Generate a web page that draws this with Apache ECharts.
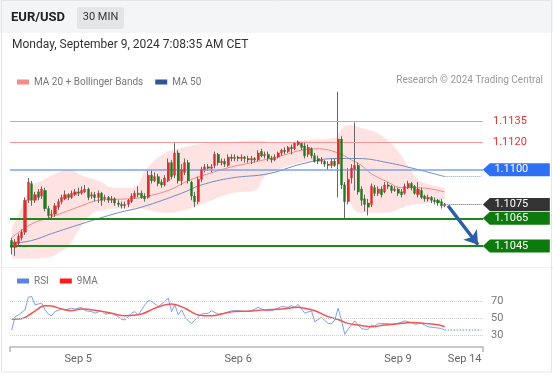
<!DOCTYPE html>
<html><head><meta charset="utf-8">
<script src="https://cdn.jsdelivr.net/npm/echarts@6/dist/echarts.min.js"></script>
<style>html,body{margin:0;padding:0;background:#fff}#c{width:553px;height:375px}</style>
</head><body><div id="c"></div>
<script>
const categoryCount = 142;
const tickLabels = ['Sep 5', 'Sep 6', 'Sep 9', 'Sep 14'];
const tickIndex = [20, 68, 116, 136];

// [open, close, low, high]
const candles = [
[1.1049,1.1044,1.1039,1.1051],[1.1044,1.1048,1.1038,1.1050],[1.1047,1.1052,1.1045,1.1054],[1.1051,1.1055,1.1049,1.1057],
[1.1055,1.1078,1.1053,1.1080],[1.1078,1.1091,1.1076,1.1094],[1.1090,1.1078,1.1074,1.1092],[1.1078,1.1082,1.1076,1.1084],
[1.1084,1.1080,1.1078,1.1086],[1.1081,1.1086,1.1079,1.1088],[1.1085,1.1072,1.1070,1.1087],[1.1072,1.1067,1.1065,1.1074],
[1.1067,1.1068,1.1065,1.1071],[1.1068,1.1074,1.1066,1.1076],[1.1073,1.1077,1.1071,1.1079],[1.1077,1.1080,1.1075,1.1082],
[1.1079,1.1082,1.1078,1.1085],[1.1082,1.1080,1.1078,1.1083],[1.1080,1.1083,1.1079,1.1085],[1.1082,1.1084,1.1081,1.1086],
[1.1084,1.1083,1.1081,1.1087],[1.1083,1.1085,1.1082,1.1088],[1.1084,1.1086,1.1083,1.1089],[1.1086,1.1080,1.1078,1.1087],
[1.1081,1.1082,1.1079,1.1084],[1.1082,1.1080,1.1077,1.1084],[1.1080,1.1083,1.1076,1.1085],[1.1083,1.1078,1.1074,1.1084],
[1.1079,1.1080,1.1077,1.1082],[1.1080,1.1078,1.1076,1.1081],[1.1078,1.1079,1.1076,1.1081],[1.1079,1.1076,1.1074,1.1080],
[1.1076,1.1075,1.1073,1.1078],[1.1075,1.1074,1.1072,1.1077],[1.1074,1.1075,1.1072,1.1077],[1.1075,1.1078,1.1073,1.1079],
[1.1077,1.1081,1.1076,1.1083],[1.1080,1.1083,1.1079,1.1085],[1.1083,1.1082,1.1080,1.1088],[1.1083,1.1080,1.1079,1.1085],
[1.1081,1.1079,1.1077,1.1083],[1.1080,1.1096,1.1079,1.1099],[1.1096,1.1092,1.1090,1.1100],[1.1092,1.1095,1.1091,1.1098],
[1.1095,1.1090,1.1088,1.1097],[1.1091,1.1089,1.1087,1.1093],[1.1089,1.1094,1.1088,1.1096],[1.1092,1.1105,1.1091,1.1108],
[1.1105,1.1095,1.1093,1.1107],[1.1096,1.1112,1.1094,1.1119],[1.1112,1.1092,1.1090,1.1114],[1.1092,1.1100,1.1089,1.1104],
[1.1098,1.1105,1.1096,1.1108],[1.1105,1.1092,1.1090,1.1107],[1.1091,1.1081,1.1078,1.1092],[1.1081,1.1077,1.1073,1.1084],
[1.1077,1.1093,1.1075,1.1095],[1.1093,1.1100,1.1091,1.1102],[1.1100,1.1102,1.1098,1.1104],[1.1102,1.1101,1.1099,1.1104],
[1.1101,1.1102,1.1098,1.1104],[1.1103,1.1111,1.1101,1.1113],[1.1111,1.1105,1.1103,1.1112],[1.1105,1.1106,1.1103,1.1108],
[1.1106,1.1104,1.1102,1.1108],[1.1103,1.1109,1.1102,1.1111],[1.1109,1.1108,1.1106,1.1111],[1.1108,1.1109,1.1106,1.1111],
[1.1109,1.1108,1.1106,1.1110],[1.1108,1.1109,1.1106,1.1111],[1.1109,1.1108,1.1105,1.1110],[1.1108,1.1107,1.1105,1.1110],
[1.1107,1.1108,1.1104,1.1110],[1.1108,1.1107,1.1105,1.1109],[1.1107,1.1112,1.1106,1.1114],[1.1113,1.1110,1.1109,1.1115],
[1.1110,1.1111,1.1108,1.1113],[1.1111,1.1108,1.1106,1.1113],[1.1108,1.1107,1.1105,1.1110],[1.1107,1.1109,1.1106,1.1111],
[1.1109,1.1112,1.1108,1.1113],[1.1112,1.1114,1.1110,1.1115],[1.1114,1.1113,1.1111,1.1116],[1.1113,1.1116,1.1112,1.1117],
[1.1116,1.1115,1.1111,1.1118],[1.1115,1.1119,1.1114,1.1120],[1.1118,1.1120,1.1117,1.1121],[1.1119,1.1116,1.1114,1.1120],
[1.1117,1.1110,1.1108,1.1120],[1.1111,1.1116,1.1109,1.1118],[1.1115,1.1110,1.1108,1.1116],[1.1110,1.1106,1.1105,1.1112],
[1.1108,1.1106,1.1104,1.1110],[1.1106,1.1107,1.1104,1.1109],[1.1106,1.1104,1.1102,1.1107],[1.1104,1.1103,1.1100,1.1106],
[1.1103,1.1106,1.1101,1.1108],[1.1106,1.1103,1.1102,1.1108],[1.1104,1.1122,1.1080,1.1156],[1.1122,1.1089,1.1086,1.1124],
[1.1089,1.1077,1.1064,1.1091],[1.1077,1.1093,1.1075,1.1101],[1.1094,1.1101,1.1090,1.1104],[1.1100,1.1103,1.1085,1.1134],
[1.1103,1.1084,1.1082,1.1105],[1.1086,1.1078,1.1074,1.1088],[1.1079,1.1075,1.1070,1.1082],[1.1076,1.1073,1.1067,1.1079],
[1.1075,1.1088,1.1073,1.1090],[1.1087,1.1083,1.1081,1.1089],[1.1083,1.1086,1.1081,1.1088],[1.1086,1.1082,1.1080,1.1088],
[1.1084,1.1089,1.1083,1.1091],[1.1089,1.1088,1.1086,1.1091],[1.1088,1.1085,1.1083,1.1089],[1.1085,1.1086,1.1084,1.1088],
[1.1086,1.1083,1.1081,1.1087],[1.1084,1.1082,1.1080,1.1086],[1.1083,1.1088,1.1082,1.1090],[1.1087,1.1090,1.1086,1.1092],
[1.1090,1.1087,1.1085,1.1091],[1.1088,1.1083,1.1082,1.1089],[1.1082,1.1086,1.1080,1.1091],[1.1085,1.1080,1.1079,1.1087],
[1.1081,1.1079,1.1077,1.1082],[1.1079,1.1080,1.1077,1.1082],[1.1080,1.1078,1.1076,1.1081],[1.1078,1.1077,1.1075,1.1080],
[1.1078,1.1076,1.1074,1.1079],[1.1077,1.1074,1.1072,1.1079],[1.1074,1.1075,1.1073,1.1076]
];

const ma20 = [[0,1.1051],[6,1.1061],[12,1.1066],[21,1.1074],[26,1.1078],[35,1.1079],[39,1.1080],[47,1.1085],[53,1.1092],[59,1.1097],[66,1.1102],[72,1.1105],[81,1.1110],[87,1.1114],[92,1.1115],[98,1.1112],[102,1.1107],[105,1.1103],[108,1.1097],[113,1.1091],[117,1.1087],[122,1.1087],[130,1.1084]];
const bbUpper = [[0,1.1058],[3,1.1073],[6,1.1088],[9,1.1092],[13,1.1097],[17,1.1100],[21,1.1096],[26,1.1092],[31,1.1087],[36,1.1087],[41,1.1102],[46,1.1112],[50,1.1115],[56,1.1118],[66,1.1120],[74,1.1121],[80,1.1119],[87,1.1121],[97,1.1123],[99,1.1129],[101,1.1132],[105,1.1130],[110,1.1126],[115,1.1116],[119,1.1103],[122,1.1093],[126,1.1089],[130,1.1087]];
const bbLower = [[0,1.1036],[5,1.1036],[11,1.1037],[14,1.1040],[17,1.1045],[20,1.1056],[24,1.1068],[28,1.1071],[32,1.1072],[38,1.1072],[46,1.1069],[52,1.1071],[58,1.1076],[66,1.1083],[73,1.1085],[76,1.1095],[80,1.1100],[87,1.1105],[97,1.1107],[99,1.1092],[101,1.1079],[105,1.1069],[112,1.1069],[119,1.1074],[125,1.1076],[130,1.1079]];
const ma50 = [[0,1.1047],[6,1.1049],[12,1.1054],[21,1.1061],[32,1.1069],[39,1.1073],[51,1.1083],[57,1.1089],[66,1.1094],[77,1.1097],[87,1.1104],[97,1.1108],[104,1.1108],[113,1.1105],[122,1.1100],[130,1.1095]];

const rsi = [[0,36],[1,52],[2,54],[4,60],[5,75],[6,76],[7,66],[8,67],[9,68],[10,60],[11,55],[12,53],[13,58],[15,61],[16,60],[18,62],[19,61],[21,63],[22,59],[24,58],[25,56],[27,59],[28,55],[30,56],[32,52],[33,49],[34,48],[35,52],[36,56],[37,58],[38,54],[39,60],[40,66],[41,71],[42,70],[44,64],[45,67],[46,70],[47,74],[48,58],[49,66],[50,54],[51,60],[52,52],[53,47],[54,44],[55,48],[57,55],[59,56],[60,59],[62,55],[64,56],[66,59],[68,59],[70,58],[72,59],[74,63],[76,59],[78,59],[80,62],[81,64],[83,63],[84,65],[85,63],[86,66.5],[88,56],[90,59],[91,46],[93,51],[95,44],[96,43.5],[97,48],[98,62],[99,48],[100,31],[101,37],[102,42],[103,47],[104,42],[105,38],[106,37],[107,37],[108,42],[109,41],[110,43.5],[112,44],[114,43],[116,44],[118,47],[120,45],[121,43],[123,44],[125,40],[127,39],[129,38],[130,36]];
const rsi9ma = [[0,49],[3,49.5],[6,56],[9,64],[10,65],[12,64.5],[15,61],[18,59],[21,61],[26,59],[30,56],[34,53],[39,55],[43,62],[48,67],[52,62],[56,54],[60,53],[64,56],[67,58],[71,58.5],[76,60],[81,61],[86,63],[87,62.5],[91,59],[95,52],[98,48.5],[101,44],[104,42],[108,40],[112,42],[116,43.5],[120,45],[124,44],[128,42.5],[130,40]];

const resistance = [1.1135, 1.1120];
const pivot = 1.1100;
const supports = [1.1065, 1.1045];
const rsiLevels = [70, 50, 30];

const categories = Array.from({length: categoryCount}, (_, i) => String(i));
const lastIdx = candles.length - 1;
const lastClose = candles[lastIdx][1];
const lastMa50 = ma50[ma50.length - 1][1];
const lastRsi = rsi[rsi.length - 1][1];
const bodies = candles.map(d => [d[0], d[1], Math.min(d[0], d[1]), Math.max(d[0], d[1])]);

const FONT = 'Roboto, "Liberation Sans", sans-serif';
const tagPath = 'path://M0,6.5 L7,0 L67,0 L67,13 L7,13 Z';
function tag(v, color) {
  return {
    coord: [categoryCount - 1, v], symbol: tagPath, symbolSize: [67, 13], symbolOffset: [35, 0],
    itemStyle: {color: color},
    label: {show: true, position: 'inside', formatter: v.toFixed(4), color: '#fff', fontSize: 11, fontFamily: FONT, offset: [-5, 0]}
  };
}

const levelLines = resistance.map(v => ({yAxis: v, lineStyle: {color: '#f79696', width: 1, type: 'solid'},
    label: {show: true, position: 'end', distance: 10, formatter: v.toFixed(4), color: '#e8322e', fontSize: 11, fontFamily: FONT}}))
  .concat([{yAxis: pivot, lineStyle: {color: '#7ea3f2', width: 1.5, type: 'solid'}, label: {show: false}}])
  .concat(supports.map(v => ({yAxis: v, lineStyle: {color: '#1d861d', width: 2, type: 'solid'}, label: {show: false}})));

const chart = echarts.init(document.getElementById('c'), null, {renderer: 'canvas'});
chart.setOption({
  animation: false,
  backgroundColor: '#fff',
  textStyle: {fontFamily: FONT},
  graphic: [
    {type: 'rect', shape: {x: 0, y: 0, width: 553, height: 33}, style: {fill: '#f4f5f6'}, z: -10},
    {type: 'rect', shape: {x: 77, y: 7, width: 47, height: 22, r: 2}, style: {fill: '#e4e5e7'}, z: -9},
    {type: 'text', x: 11, y: 17.5, style: {text: 'EUR/USD', font: 'bold 13px ' + FONT, fill: '#222', verticalAlign: 'middle'}},
    {type: 'text', x: 100.5, y: 17.5, style: {text: '30 MIN', font: '11px ' + FONT, fill: '#333', align: 'center', verticalAlign: 'middle'}},
    {type: 'text', x: 12, y: 45, style: {text: 'Monday, September 9, 2024 7:08:35 AM CET', font: '12px ' + FONT, fill: '#333', verticalAlign: 'middle'}},
    {type: 'text', x: 543, y: 80.5, style: {text: 'Research \u00a9 2024 Trading Central', font: '10px ' + FONT, fill: '#999', align: 'right', verticalAlign: 'middle'}},
    {type: 'line', shape: {x1: 0, y1: 267.5, x2: 553, y2: 267.5}, style: {stroke: '#efefef', lineWidth: 1}},
    {type: 'rect', shape: {x: 1.5, y: 0.5, width: 550, height: 371.5}, style: {fill: 'none', stroke: '#e6e6e6', lineWidth: 1}}
  ],
  legend: [
    {left: 12, top: 72, icon: 'rect', itemWidth: 12, itemHeight: 5, itemGap: 12,
     textStyle: {fontSize: 10, color: '#777', fontFamily: FONT},
     data: [{name: 'MA 20 + Bollinger Bands', itemStyle: {color: '#f78a8a'}}, {name: 'MA 50', itemStyle: {color: '#2f5597'}}]},
    {left: 12, top: 271, icon: 'rect', itemWidth: 12, itemHeight: 5, itemGap: 11,
     textStyle: {fontSize: 10, color: '#777', fontFamily: FONT},
     data: [{name: 'RSI', itemStyle: {color: '#5b82e6'}}, {name: '9MA', itemStyle: {color: '#ff1a1a'}}]}
  ],
  grid: [
    {left: 10, right: 70, top: 89, height: 171},
    {left: 10, right: 70, top: 293, height: 54}
  ],
  xAxis: [
    {type: 'category', gridIndex: 0, data: categories, show: false},
    {type: 'category', gridIndex: 1, data: categories, axisLine: {show: false}, axisTick: {show: false},
     axisLabel: {interval: (i) => tickIndex.includes(i), formatter: (v, i) => tickLabels[tickIndex.indexOf(Number(v))] || '',
                 color: '#666', fontSize: 11, margin: 7, fontFamily: FONT}},
    {type: 'value', gridIndex: 1, min: 0, max: 1, interval: 1, position: 'bottom',
     axisLine: {show: true, lineStyle: {color: '#b8b8b8', width: 1.5}},
     axisTick: {show: true, length: 5, lineStyle: {color: '#b8b8b8', width: 1.5}},
     axisLabel: {show: false}, splitLine: {show: false}}
  ],
  yAxis: [
    {type: 'value', gridIndex: 0, min: 1.1035, max: 1.1158, show: false, splitLine: {show: false}},
    {type: 'value', gridIndex: 1, min: 16, max: 80, show: false, splitLine: {show: false}}
  ],
  series: [
    {name: 'bbUpper', type: 'line', z: 1, xAxisIndex: 0, yAxisIndex: 0, data: bbUpper, smooth: 0.5, symbol: 'none',
     lineStyle: {width: 0}, areaStyle: {color: '#ffe2e2', opacity: 1}, silent: true},
    {name: 'bbLower', type: 'line', z: 1, xAxisIndex: 0, yAxisIndex: 0, data: bbLower, smooth: 0.5, symbol: 'none',
     lineStyle: {width: 0}, areaStyle: {color: '#ffffff', opacity: 1}, silent: true},
    {name: 'MA 20 + Bollinger Bands', type: 'line', z: 3, xAxisIndex: 0, yAxisIndex: 0, data: ma20, smooth: 0.4, symbol: 'none',
     color: '#f08a8a', lineStyle: {width: 1, color: '#f08a8a'},
     markLine: {silent: true, symbol: 'none', precision: 5, data: levelLines}},
    {name: 'MA 50', type: 'line', z: 3, xAxisIndex: 0, yAxisIndex: 0, data: ma50, smooth: 0.4, symbol: 'none',
     color: '#6f8cc4', lineStyle: {width: 1, color: '#6f8cc4'},
     markLine: {silent: true, symbol: 'none', precision: 5, label: {show: false},
       data: [
         [{coord: [lastIdx, lastClose], lineStyle: {color: '#666', type: 'dotted', width: 1}}, {coord: [categoryCount - 1, lastClose]}],
         [{coord: [lastIdx, lastMa50], lineStyle: {color: '#8ea3cf', type: 'dotted', width: 1}}, {coord: [categoryCount - 1, lastMa50]}]
       ]}},
    {name: 'wicks', type: 'candlestick', z: 4, xAxisIndex: 0, yAxisIndex: 0, data: candles, barWidth: 1,
     itemStyle: {color: '#666', color0: '#666', borderColor: '#666', borderColor0: '#666', borderWidth: 1}},
    {name: 'bodies', type: 'candlestick', z: 5, xAxisIndex: 0, yAxisIndex: 0, data: bodies, barWidth: 2.6,
     itemStyle: {color: '#d8302e', color0: '#1f7a1f', borderColor: '#d8302e', borderColor0: '#1f7a1f', borderWidth: 0.4},
     markPoint: {silent: true, precision: 5, data: [tag(pivot, '#2f6ff4'), tag(lastClose, '#333333'), tag(supports[0], '#0d7a0d'), tag(supports[1], '#0d7a0d')]}},
    {name: 'arrow', type: 'line', z: 6, xAxisIndex: 0, yAxisIndex: 0, data: [[lastIdx, lastClose]], symbol: 'none', lineStyle: {width: 0},
     markLine: {silent: true, precision: 5, symbol: ['none', 'arrow'], symbolSize: [13, 13],
       lineStyle: {color: '#2d5ea8', width: 3.5, type: 'solid'}, label: {show: false},
       data: [[{coord: [lastIdx + 1, lastClose - 0.0001]}, {coord: [categoryCount - 2, supports[1] + 0.0001]}]]}},
    {name: 'RSI', type: 'line', z: 3, xAxisIndex: 1, yAxisIndex: 1, data: rsi, symbol: 'none',
     color: '#7fa0ee', lineStyle: {width: 1, color: '#7fa0ee'},
     markLine: {silent: true, symbol: 'none',
       data: rsiLevels.map(v => ({yAxis: v, lineStyle: {color: '#cfcfcf', type: 'dotted', width: 1},
               label: {show: true, position: 'end', distance: 8, formatter: String(v), color: '#777', fontSize: 11, fontFamily: FONT}}))
         .concat([[{coord: [lastIdx, lastRsi], lineStyle: {color: '#8fb0f5', type: 'dotted', width: 1.5}, label: {show: false}}, {coord: [categoryCount - 1, lastRsi]}]])}},
    {name: '9MA', type: 'line', z: 4, xAxisIndex: 1, yAxisIndex: 1, data: rsi9ma, smooth: 0.4, symbol: 'none',
     color: '#f25555', lineStyle: {width: 1.5, color: '#f25555'}}
  ]
});
</script>
</body></html>
